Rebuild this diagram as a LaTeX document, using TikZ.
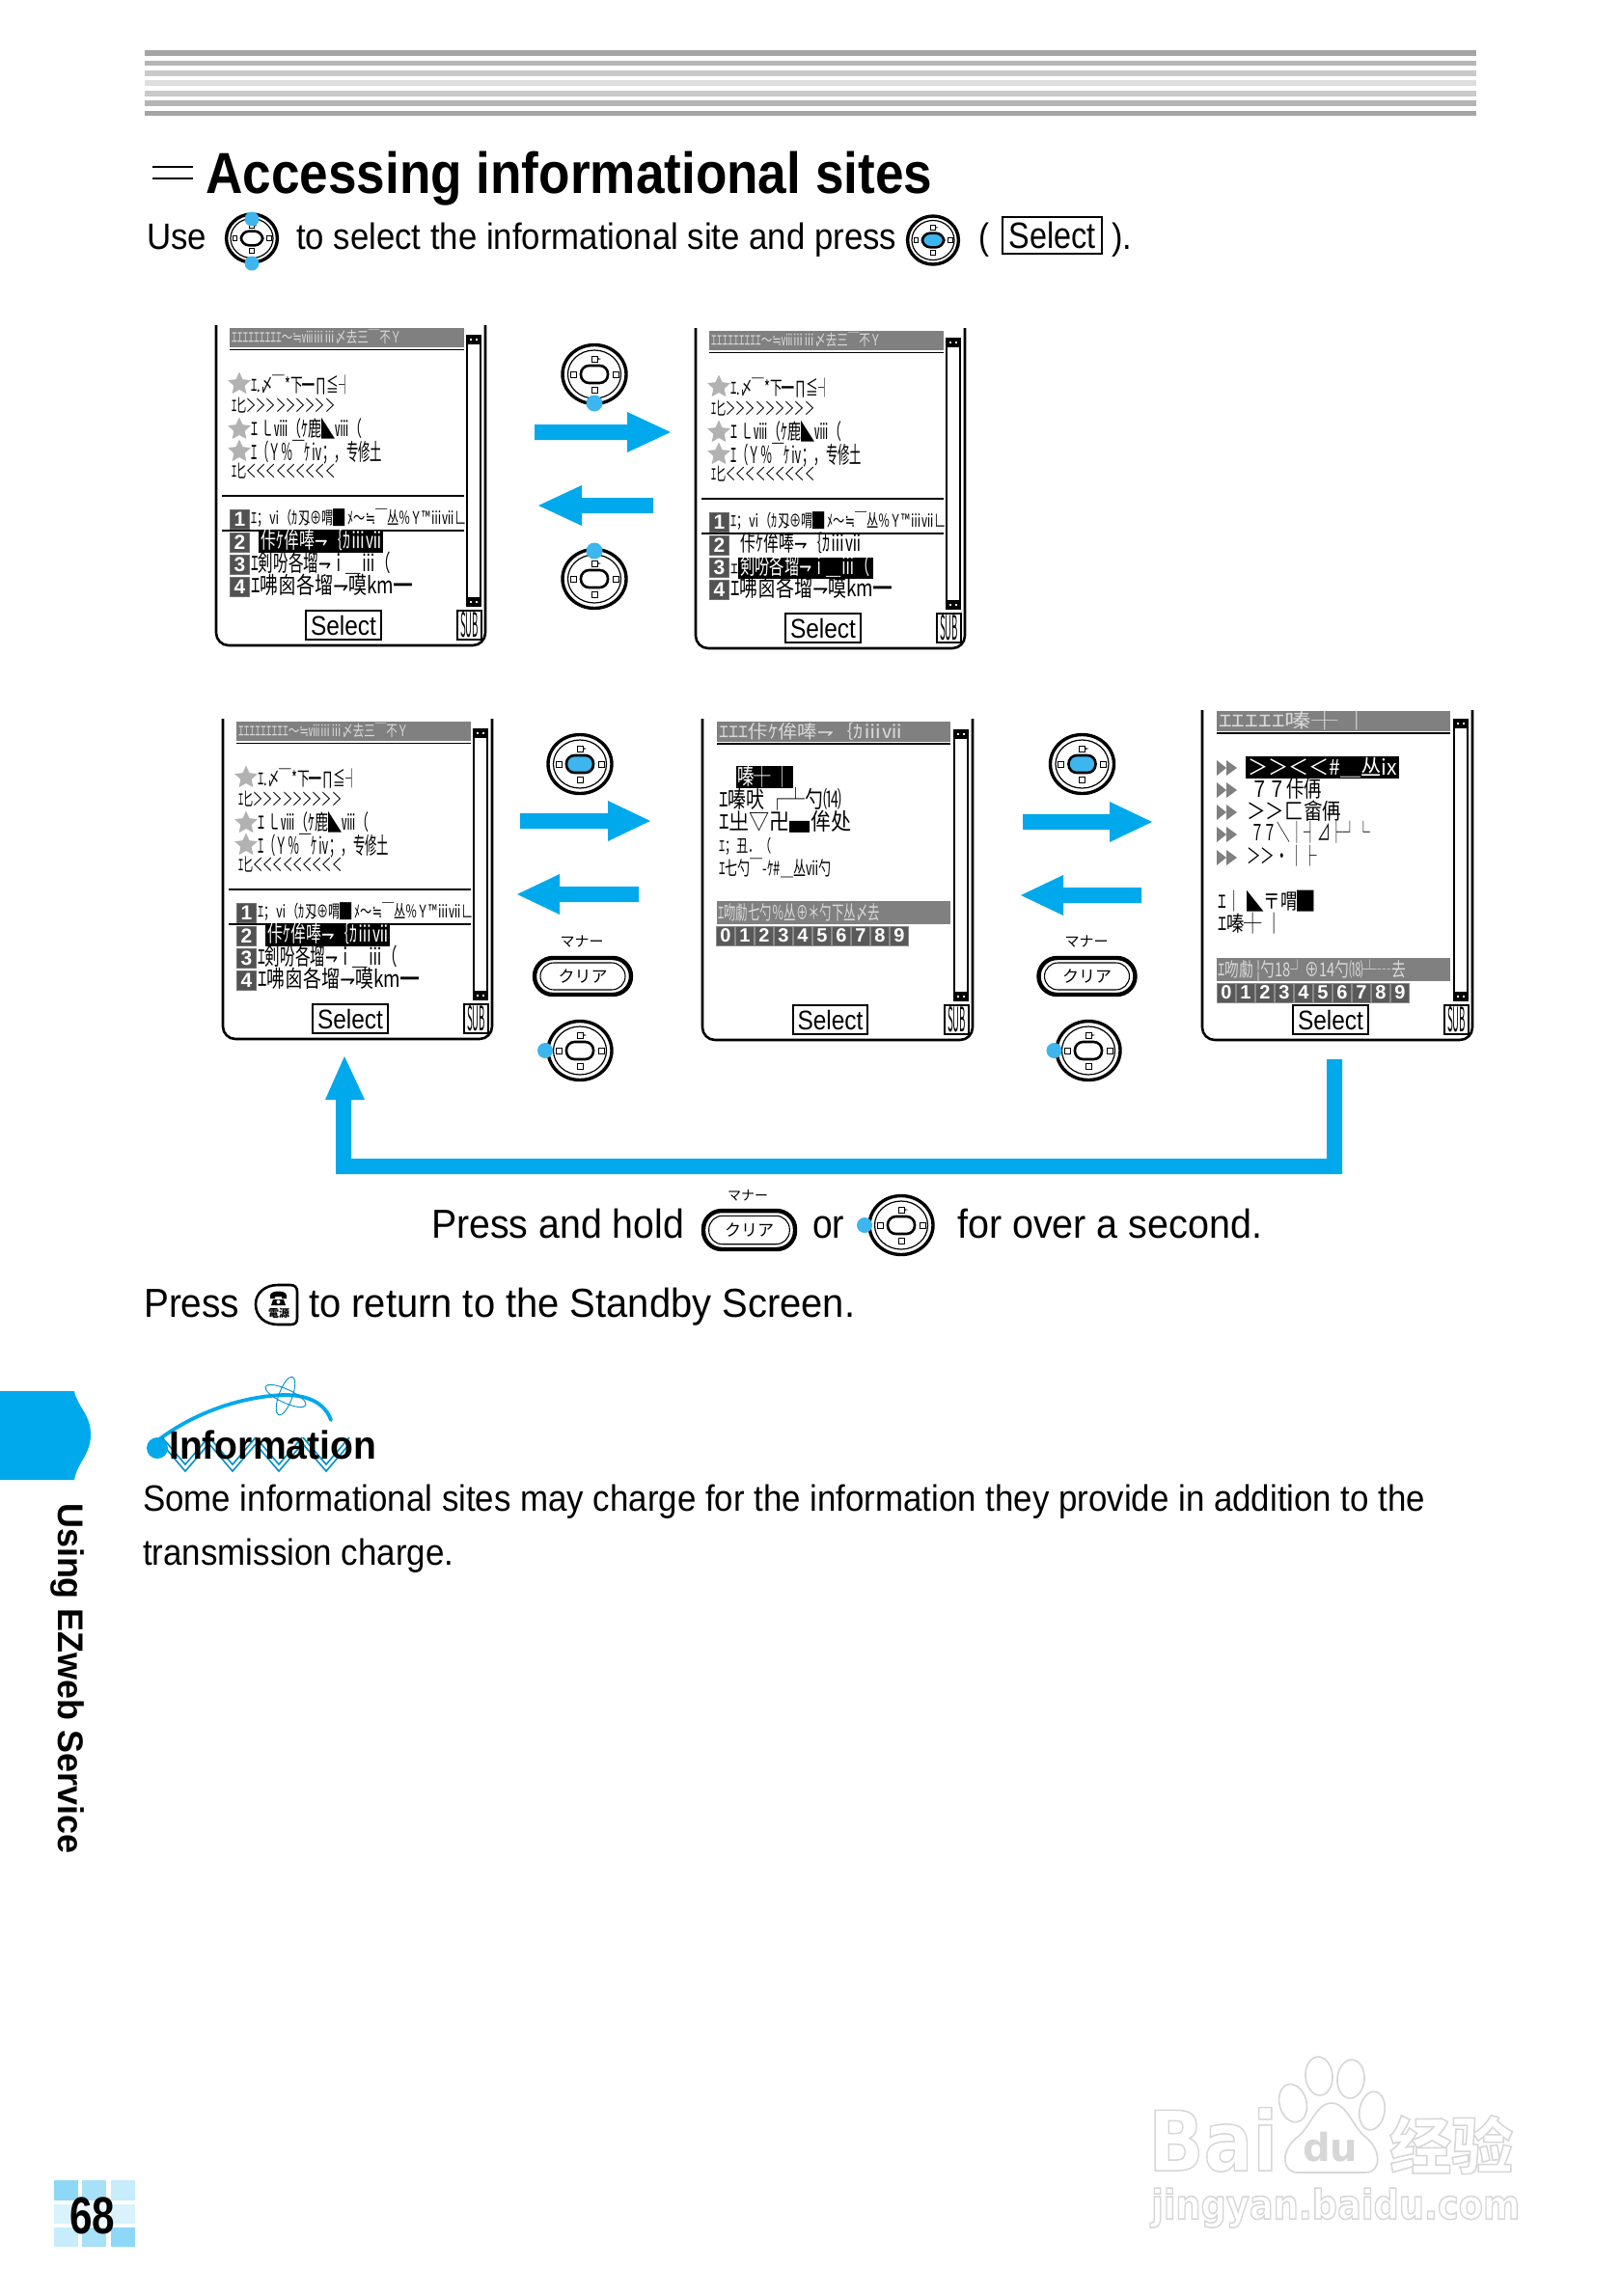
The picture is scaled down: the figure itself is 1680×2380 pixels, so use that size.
\documentclass[tikz,border=0pt]{standalone}
\usepackage{fontspec}
\usepackage{graphicx}
\usetikzlibrary{shapes.geometric}
\setmainfont{Liberation Sans}
\newfontfamily\cjk{Noto Sans CJK SC}
\newfontfamily\cjkjp{Noto Sans CJK JP}
\newfontfamily\dv{DejaVu Sans}
\definecolor{arrowblue}{HTML}{00A9EC}
\definecolor{dotblue}{HTML}{3DB5EE}
\definecolor{barA}{HTML}{A5A5A5}
\definecolor{barB}{HTML}{B5B5B5}
\definecolor{barC}{HTML}{C9C9C9}
\definecolor{barD}{HTML}{DEDEDE}
\definecolor{screengray}{HTML}{808080}
\definecolor{wm}{HTML}{D6D6D6}
\newcommand\fsz[1]{\fontsize{#1}{#1}\selectfont}
\newcommand\hk{{\dv ⇁}}
\newcommand\nearly{{\dv ≒}}
\newcommand\wmtext[1]{\special{pdf:code 1 Tr 1.5 w}#1\special{pdf:code 0 Tr 1 w}}
\newcounter{tn}
% screen text: x, baseline y, width, size, text
\newcommand\scr[6][black]{\stepcounter{tn}\node[anchor=base west,inner sep=0,text=#1] (t\thetn) at (#2,#3) {\cjk\fsz{#5}\resizebox{#4pt}{\height}{#6}};}
\newcommand\fitted[6]{\node[anchor=base west,inner sep=0] (#1) at (#2,#3) {\fsz{#5}\resizebox{#4pt}{\height}{#6}};}
\newcommand\barfill[5]{\fill[#5] (#1,#2) rectangle (#3,#4);}
\newcommand\rarrow[4]{\fill[arrowblue] (#1,#4-8) -- (#2,#4-8) -- (#2,#4-21) -- (#3,#4) -- (#2,#4+21) -- (#2,#4+8) -- (#1,#4+8) -- cycle;}
\newcommand\numsq[3]{\stepcounter{tn}\node[draw=black!55,line width=1pt,fill=black!68,text=white,inner sep=0,minimum width=20,minimum height=20,font=\bfseries\fsz{21}] (t\thetn) at (#1,#2) {#3};}
\newcommand\digits[2]{\foreach \d [count=\i from 0] in {0,...,9} {\stepcounter{tn}\node[draw=black!45,line width=.8pt,fill=black!65,text=white,inner sep=0,minimum width=19,minimum height=20,font=\bfseries\fsz{20}] (t\thetn) at (#1+10+\i*20,#2+10) {\d};}}
\newcommand\staricon[2]{\stepcounter{tn}\node[star,star points=5,star point ratio=2.1,fill=black!30,inner sep=0,minimum size=25] (t\thetn) at (#1,#2) {};}
\newcommand\arrhead[2]{\fill[black!50] (#1,#2-8) -- (#1+10,#2) -- (#1,#2+8) -- cycle; \fill[black!50] (#1+10,#2-8) -- (#1+21,#2) -- (#1+10,#2+8) -- cycle;}
% phone outline: left, top, right, bottom; Select x1,x2; scrollbar y1,y2
\newcommand\phone[8]{%
 \draw[phoneline,rounded corners=13pt] (#1,#2) -- (#1,#4) -- (#3,#4) -- (#3,#2);
 \stepcounter{tn}\node[softkey,minimum width=#6-#5,minimum height=30] (t\thetn) at ({(#5+#6)/2},{#4-21}) {\fsz{28}\resizebox{68pt}{\height}{Select}};
 \stepcounter{tn}\node[softkey,minimum width=25,minimum height=30] (t\thetn) at (#3-16.5,{#4-21}) {\cjk\fsz{20}\resizebox{19pt}{26pt}{SUB}};
 \draw[line width=2.4pt] (#3-19,#7) rectangle (#3-5,#8);
 \fill (#3-19,#7) rectangle (#3-5,#7+9);
 \fill (#3-19,#8-9) rectangle (#3-5,#8);
 \fill[white] (#3-16,#7+3) rectangle (#3-14,#7+5); \fill[white] (#3-10,#7+3) rectangle (#3-8,#7+5);
 \fill[white] (#3-16,#8-5) rectangle (#3-14,#8-3); \fill[white] (#3-10,#8-5) rectangle (#3-8,#8-3);
}
% menu screen: shift given by a scope; highlight row
\newcommand\menuscreen[1]{%
 \fill[screengray] (238,340) rectangle (481,360);
 \draw[line width=1.5pt] (238,362.5) -- (481,362.5);
 \scr[white!85!black]{240}{355}{176}{16}{ｴｴｴｴｴｴｴｴｴ～\nearly ⅷⅲⅲ〆去三￣不Ｙ}
 \staricon{248}{398}
 \scr{260}{406}{104}{20}{ｴ.〆￣*下━∏≦┤}
 \scr{240}{427}{107}{19}{ｴ匕＞＞＞＞＞＞＞＞＞}
 \staricon{248}{445}
 \scr{260}{452}{115}{22}{ｴ ㇄ⅷ（ｹ鹿◣ⅷ（}
 \staricon{248}{468}
 \scr{260}{477}{136}{24}{ｴ（Ｙ％￣ｹⅳ；，专修土}
 \scr{240}{495}{107}{19}{ｴ匕＜＜＜＜＜＜＜＜＜}
 \draw[line width=1.5pt] (230,514) -- (481,514);
 \draw[line width=1.5pt] (230,550) -- (481,550);
 \numsq{248.5}{538}{1}\numsq{248.5}{562}{2}\numsq{248.5}{585}{3}\numsq{248.5}{608}{4}
 \scr{260}{543}{223}{18}{ｴ；ⅵ（ｶ刄⊕喟█ ﾒ～\nearly ￣丛％Ｙ™ⅲⅶ∟}
 \ifnum#1=2 \fill (268,550) rectangle (397,573); \scr[white]{270}{568}{125}{23}{佧ｹ侔唪\hk｛ｶⅲⅶ}
 \else \scr{270}{568}{125}{23}{佧ｹ侔唪\hk｛ｶⅲⅶ} \fi
 \ifnum#1=3 \fill (268,575) rectangle (408,597); \scr{260}{592}{8}{16}{ｴ}\scr[white]{270}{592}{135}{24}{剣吩各塯\hk ｉ＿ⅲ（}
 \else \scr{260}{592}{145}{24}{ｴ剣吩各塯\hk ｉ＿ⅲ（} \fi
 \scr{260}{615}{167}{24}{ｴ咈囪各塯\hk 嗼km━}
}
\tikzset{
 phoneline/.style={line width=2.6pt},
 softkey/.style={draw,line width=2.2pt,inner sep=0,fill=white},
 bodytext/.style={anchor=base west,inner sep=0},
 atomline/.style={draw=arrowblue!85!black,line width=.9pt},
 chev/.style={draw=arrowblue!85!black,line width=1.6pt},
 pawline/.style={draw=wm,line width=1.6pt,fill=white},
 pics/dpad/.style={code={
  \draw[line width=3.4pt] (0,0) ellipse (33 and 30.5);
  \draw[line width=1.2pt] (0,0) ellipse (27.5 and 25);
  \draw[line width=2.6pt,fill=#1,rounded corners=8.5pt] (-14,-9) rectangle (14,9);
  \draw[line width=1pt] (-3,-19) rectangle (3,-13);\draw[line width=1pt] (-3,13) rectangle (3,19);
  \fill (3,-17) -- (7,-16) -- (3,-15) -- cycle;
  \draw[line width=1pt] (-25,-3) rectangle (-19,3);\draw[line width=1pt] (19,-3) rectangle (25,3);
 }},
 pics/dpad/.default=white,
 pics/clearbtn/.style={code={
  \draw[line width=4.4pt,rounded corners=19pt] (-50,-19) rectangle (50,19);
  \draw[line width=1.1pt,rounded corners=14pt] (-44,-14) rectangle (44,14);
 }},
}
\begin{document}
\begin{tikzpicture}[x=1pt,y=-1pt]
\useasboundingbox (0,0) rectangle (1680,2380);
\fill[white] (0,0) rectangle (1680,2380);
% header bars
\barfill{150}{52}{1530}{58}{barA}
\barfill{150}{63}{1530}{68}{barB}
\barfill{150}{73}{1530}{79}{barC}
\barfill{150}{83}{1530}{89}{barD}
\barfill{150}{94}{1530}{100}{barC}
\barfill{150}{104}{1530}{110}{barB}
\barfill{150}{115}{1530}{120}{barA}
% heading
\draw[line width=1.2pt] (158,173) -- (200,173);
\draw[line width=1.2pt] (158,185) -- (200,185);
\fitted{head}{213}{200}{753}{60}{\bfseries Accessing informational sites}
% use line
\fitted{use}{152}{258}{62}{38}{Use}
\pic[xscale=.8,yscale=.82] (pad1) at (261,247) {dpad};
\fill[dotblue] (261,227) circle (7.5);
\fill[dotblue] (261,273) circle (7.5);
\fitted{uselb}{307}{258}{622}{38}{to select the informational site and press}
\pic[xscale=.8,yscale=.82] (pad2) at (967,249) {dpad=dotblue};
\fitted{lp}{1014}{258}{11}{38}{(}
\node[draw,line width=2pt,inner sep=0,minimum width=103,minimum height=38] (selbox) at (1090.5,244) {\fsz{38}\resizebox{90pt}{\height}{Select}};
\fitted{rp}{1152}{258}{21}{38}{).}
% phones top row
\phone{224}{337}{503}{669}{317}{395}{348}{628}
\menuscreen{2}
\begin{scope}[shift={(497,3)}]
\phone{224}{337}{503}{669}{317}{395}{348}{628}
\menuscreen{3}
\end{scope}
\pic (pad3) at (616,388) {dpad};
\fill[dotblue] (616,418) circle (8.5);
\rarrow{554}{650}{695}{448}
\rarrow{677}{603}{558}{524}
\pic (pad4) at (616,600) {dpad};
\fill[dotblue] (616,571) circle (8.5);
% phones bottom row
\begin{scope}[shift={(7,408)}]
\phone{224}{337}{503}{669}{317}{395}{348}{628}
\menuscreen{2}
\end{scope}
\pic (pad5) at (601,792) {dpad=dotblue};
\rarrow{539}{630}{674}{851}
\rarrow{662}{580}{536}{927}
\node[font=\cjkjp\fsz{15},inner sep=0] (man1) at (603,976) {マナー};
\pic (clr1) at (604,1012) {clearbtn};
\node[font=\cjkjp\fsz{17},inner sep=0] (cl1) at (604,1012) {クリア};
\pic (pad6) at (601,1089) {dpad};
\fill[dotblue] (565,1089) circle (8);
% middle phone
\phone{728}{745}{1008}{1078}{822}{899}{757}{1037}
\fill[screengray] (743,748) rectangle (985,769);
\draw[line width=2pt] (743,771) -- (985,771);
\scr[white!85!black]{745}{765}{190}{19}{ｴｴｴ佧ｹ侔唪\hk｛ｶⅲⅶ}
\fill (763,794) rectangle (822,817);
\scr[white]{764}{813}{56}{24}{嗪┼ │}
\scr{745}{837}{127}{24}{ｴ嗪吠 ┌┴勺⒁}
\scr{745}{860}{137}{24}{ｴ㞢▽卍▄侔处}
\scr{745}{883}{55}{18}{ｴ；丑．（}
\scr{745}{907}{116}{20}{ｴ七勺￣-ｹ\#＿丛ⅶ勺}
\fill[screengray] (743,934) rectangle (985,958);
\scr[white!85!black]{744}{953}{168}{20}{ｴ吻勮七勺％丛⊕＊勺下丛〆去}
\digits{742}{960}
\pic (pad7) at (1121.5,792) {dpad=dotblue};
\rarrow{1060}{1150}{1194}{852}
\rarrow{1183}{1102}{1058}{928}
\node[font=\cjkjp\fsz{15},inner sep=0] (man2) at (1126,976) {マナー};
\pic (clr2) at (1126.5,1012) {clearbtn};
\node[font=\cjkjp\fsz{17},inner sep=0] (cl2) at (1126.5,1012) {クリア};
\pic (pad8) at (1128,1089) {dpad};
\fill[dotblue] (1092.5,1089) circle (8);
% right phone
\phone{1246}{736}{1526}{1078}{1340}{1418}{746}{1037}
\fill[screengray] (1261,737) rectangle (1503,758);
\draw[line width=2pt] (1261,760) -- (1503,760);
\scr[white!85!black]{1263}{754}{157}{20}{ｴｴｴｴｴ嗪┼ │}
\arrhead{1261}{796}\arrhead{1261}{819}\arrhead{1261}{842}\arrhead{1261}{865}\arrhead{1261}{889}
\fill (1291,784) rectangle (1450,807);
\scr[white]{1293}{803}{155}{22}{＞＞＜＜\#＿丛ix}
\scr{1296}{826}{74}{23}{７７佧侢}
\scr{1292}{849}{98}{23}{＞＞匚畲侢}
\scr{1296}{871}{124}{23}{７７＼│┤⊿├┘└}
\scr{1292}{895}{73}{22}{＞＞·│├}
\scr{1262}{942}{100}{22}{ｴ│ ◣〒喟█}
\scr{1262}{965}{68}{22}{ｴ嗪┼ │}
\fill[screengray] (1261,993) rectangle (1503,1017);
\scr[white!85!black]{1262}{1012}{195}{20}{ｴ吻勮 ¦勺18┘⊕14勺⒅┴┄去}
\digits{1261}{1019}
% return arrow
\fill[arrowblue] (357,1095) -- (378,1140) -- (364,1140) -- (364,1201) -- (1375,1201) -- (1375,1098) -- (1391,1098) -- (1391,1217) -- (348,1217) -- (348,1140) -- (337,1140) -- cycle;
% press and hold
\fitted{ph}{447}{1283}{262}{42}{Press and hold}
\node[font=\cjkjp\fsz{14},inner sep=0] (man3) at (775,1239) {マナー};
\pic[xscale=.95,yscale=1.05] (clr3) at (776.5,1275) {clearbtn};
\node[font=\cjkjp\fsz{17},inner sep=0] (cl3) at (776.5,1275) {クリア};
\fitted{ortxt}{842}{1283}{33}{42}{or}
\pic (pad9) at (934,1270) {dpad};
\fill[dotblue] (896,1270) circle (8);
\fitted{fo}{992}{1283}{316}{42}{for over a second.}
% press standby
\fitted{prs}{149}{1365}{99}{42}{Press}
\draw[line width=2.6pt] (301,1332) .. controls (306,1332) and (308,1335) .. (308,1339) -- (308,1366) .. controls (308,1371) and (306,1373) .. (301,1373) -- (288,1373) .. controls (275,1373) and (265,1365) .. (265,1352) .. controls (265,1340) and (275,1332) .. (288,1332) -- cycle;
\fill (280,1343) .. controls (280,1337) and (297,1337) .. (297,1343) -- (297,1346) -- (292,1346) -- (292,1344) -- (285,1344) -- (285,1346) -- (280,1346) -- cycle;
\fill (283,1347) -- (294,1347) -- (296,1353) -- (281,1353) -- cycle;
\fill[white] (288.5,1349.5) circle (2);
\node[font=\cjkjp\bfseries\fsz{11},inner sep=0] (power) at (289,1361) {電源};
\fitted{rt}{320}{1365}{566}{42}{to return to the Standby Screen.}
% side tab
\fill[arrowblue] (0,1442) -- (77,1442) .. controls (80,1458) and (94,1466) .. (94,1487) .. controls (94,1508) and (80,1516) .. (77,1534) -- (0,1534) -- cycle;
\node[rotate=-90,anchor=base west,inner sep=0,font=\bfseries\fsz{37}] (tab) at (60,1558) {\resizebox{363pt}{\height}{Using EZweb Service}};
% information
\draw[line width=3.8pt,arrowblue,line cap=round] (165,1492) .. controls (205,1462) and (255,1447) .. (295,1446) .. controls (320,1446) and (337,1455) .. (343,1472);
\draw[atomline,rotate around={-25:(296,1447)}] (296,1447) ellipse (23 and 7);
\draw[atomline,rotate around={70:(296,1447)}] (296,1447) ellipse (21 and 7);
\foreach \cx in {192,241,289,338} {
 \draw[chev] (\cx-24,1497) -- (\cx,1525) -- (\cx+24,1497);
 \draw[chev] (\cx-24,1490) -- (\cx,1518) -- (\cx+24,1490);
}
\fill[arrowblue] (163,1501) circle (11);
\fitted{info}{175}{1512}{215}{41}{\bfseries Information}
\fitted{bod1}{148}{1566}{1329}{38}{Some informational sites may charge for the information they provide in addition to the}
\fitted{bod2}{148}{1622}{322}{38}{transmission charge.}
% page number
\fill[arrowblue!45] (56,2260) rectangle (81,2281);
\fill[arrowblue!35] (85,2260) rectangle (110,2281);
\fill[arrowblue!22] (115,2260) rectangle (140,2281);
\fill[arrowblue!15] (56,2285) rectangle (81,2305);
\fill[arrowblue!8] (85,2285) rectangle (110,2305);
\fill[arrowblue!15] (115,2285) rectangle (140,2305);
\fill[arrowblue!22] (56,2309) rectangle (81,2329);
\fill[arrowblue!35] (85,2309) rectangle (110,2329);
\fill[arrowblue!45] (115,2309) rectangle (140,2329);
\fitted{pnum}{72}{2315}{47}{54}{\bfseries 68}
% watermark
\node[bodytext,text=wm,font=\dv\bfseries\fsz{86}] (wm1) at (1190,2250) {\resizebox{134pt}{\height}{\wmtext{Bai}}};
\node[bodytext,text=wm,font=\cjk\bfseries\fsz{64}] (wm2) at (1440,2248) {\resizebox{128pt}{\height}{\wmtext{经验}}};
\node[bodytext,text=wm,font=\dv\bfseries\fsz{42}] (wm3) at (1193,2300) {\resizebox{382pt}{\height}{\wmtext{jingyan.baidu.com}}};
\draw[pawline] (1345,2252) .. controls (1328,2252) and (1327,2228) .. (1345,2215) .. controls (1358,2205) and (1364,2180) .. (1380,2180) .. controls (1396,2180) and (1402,2205) .. (1415,2215) .. controls (1432,2228) and (1432,2252) .. (1415,2252) -- cycle;
\draw[pawline,rotate around={15:(1340,2180)}] (1340,2180) ellipse (14 and 20);
\draw[pawline,rotate around={5:(1367,2152)}] (1367,2152) ellipse (14 and 20);
\draw[pawline,rotate around={-5:(1400,2155)}] (1400,2155) ellipse (14 and 20);
\draw[pawline,rotate around={-10:(1422,2188)}] (1422,2188) ellipse (13 and 20);
\node[bodytext,text=wm,font=\dv\bfseries\fsz{40}] (wm4) at (1350,2240) {du};
\end{tikzpicture}
\end{document}
